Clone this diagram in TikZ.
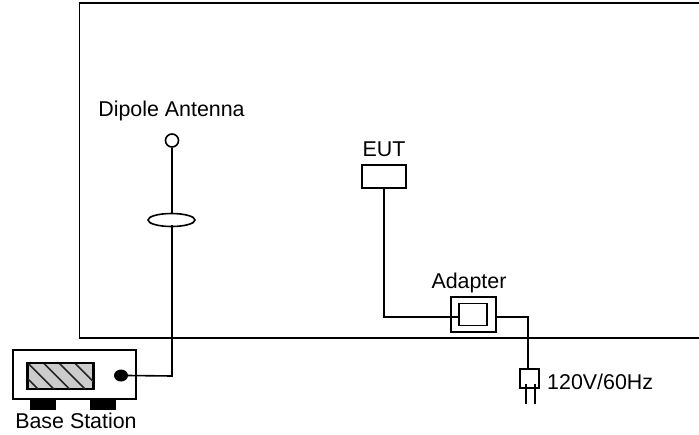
\documentclass[tikz,border=0pt]{standalone}
\usepackage{fontspec}
\setmainfont{Liberation Sans}
\usetikzlibrary{shapes.geometric}
\tikzset{
  ln/.style={draw=black,line width=1.6pt},
  lab/.style={inner sep=0pt,anchor=base,font=\fontsize{21.4}{24}\selectfont,text=black},
  foot/.style={fill=black,inner sep=0pt,minimum width=26pt,minimum height=10pt}
}
\begin{document}
\begin{tikzpicture}[x=1pt,y=-1pt]
\useasboundingbox (0,0) rectangle (699,434);
\draw[ln] (699,3) -- (79.5,3) -- (79.5,338) -- (699,338);
% antenna
\node[lab] (dipLab) at (171.5,116) {Dipole Antenna};
\node[ln,circle,inner sep=0pt,minimum size=13pt] (ant) at (172,140.5) {};
\node[ln,ellipse,inner sep=0pt,minimum width=47pt,minimum height=13pt] (ell) at (171.5,220) {};
\coordinate (ellIn) at (172,225);
\coordinate (ellTop) at (172,213.5);
\coordinate (bend) at (172,376);
\draw[ln] (ant.south) -- (ellTop);
% base station
\node[ln,inner sep=0pt,minimum width=123pt,minimum height=49pt] (bs) at (74.5,374.5) {};
\node[ln,fill=black!20,inner sep=0pt,minimum width=65pt,minimum height=25pt] (scr) at (60.5,376) {};
\begin{scope}
\clip (scr.south west) rectangle (scr.north east);
\foreach \s in {0,15.7,31.4,47.1,62.8}
  \draw[line width=1.6pt,black!85] (12+\s,363) -- (38+\s,389);
\end{scope}
\draw[ln] (scr.south west) rectangle (scr.north east);
\node[fill=black,ellipse,inner sep=0pt,minimum width=14pt,minimum height=12pt] (dot) at (121,375.5) {};
\node[foot] (f1) at (43,405) {};
\node[foot] (f2) at (103,405) {};
\node[lab] (bsLab) at (76,428) {Base Station};
\draw[ln] (dot.east) -- (bend) -- (ellIn);
% EUT
\node[lab] (eutLab) at (384,156) {EUT};
\node[ln,inner sep=0pt,minimum width=44pt,minimum height=23pt] (eut) at (384,176.5) {};
% adapter
\node[lab] (adLab) at (469,288) {Adapter};
\node[ln,inner sep=0pt,minimum width=45pt,minimum height=35pt] (adO) at (473.5,314.5) {};
\node[ln,inner sep=0pt,minimum width=28pt,minimum height=22pt] (adI) at (473,314.5) {};
\coordinate (c0) at (adI.west |- 0,317);
\coordinate (c1) at (eut.south |- c0);
\draw[ln] (eut.south) -- (c1) -- (c0);
% plug
\node[ln,inner sep=0pt,minimum width=19pt,minimum height=19pt] (plug) at (529.5,378.5) {};
\coordinate (c2) at (528,317);
\coordinate (p1) at (526,404);
\coordinate (p2) at (535,404);
\coordinate (p1t) at (526,384);
\coordinate (p2t) at (535,384);
\draw[ln] (adO.east |- c2) -- (c2) -- (c2 |- plug.north);
\draw[ln] (p1t) -- (p1);
\draw[ln] (p2t) -- (p2);
\node[lab,anchor=base west] (vLab) at (547,389) {120V/60Hz};
\end{tikzpicture}
\end{document}
